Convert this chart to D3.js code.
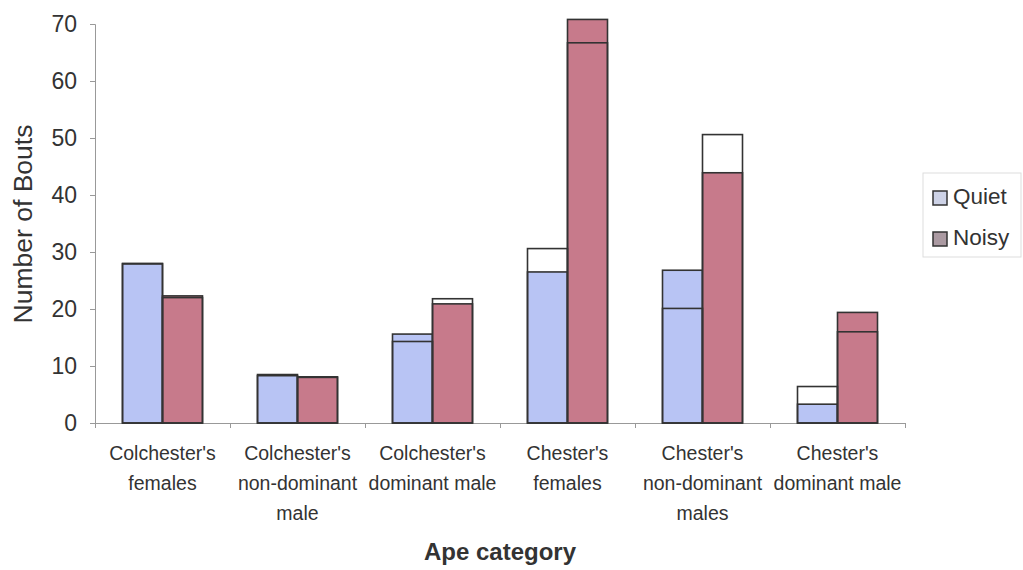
<!DOCTYPE html>
<html><head><meta charset="utf-8">
<script src="https://cdn.jsdelivr.net/npm/d3@7"></script>
<style>body{margin:0;background:#fff}svg{display:block}</style>
</head><body>
<svg id="c" width="1023" height="570"></svg>
<script>
const categories = [
  ["Colchester's","females"],
  ["Colchester's","non-dominant","male"],
  ["Colchester's","dominant male"],
  ["Chester's","females"],
  ["Chester's","non-dominant","males"],
  ["Chester's","dominant male"]
];
const seriesNames = ["Quiet","Noisy"];
const quietFilled  = [28.0, 8.3, 15.6, 26.5, 26.8, 3.3];
const quietOutline = [27.9, 8.5, 14.3, 30.6, 20.1, 6.4];
const noisyFilled  = [22.3, 8.1, 20.9, 70.8, 43.9, 19.4];
const noisyOutline = [22.0, 8.0, 21.8, 66.7, 50.6, 16.0];
const yTicks = [0,10,20,30,40,50,60,70];

const colors = {Quiet:"#b8c4f4", Noisy:"#c77a8b"};
const legendColors = {Quiet:"#cdd2e6", Noisy:"#ab9aa2"};
const svg = d3.select("#c");
const font = "'Liberation Sans', Arial, sans-serif";
const ids = categories.map((c,i)=>i);
const x = d3.scaleBand().domain(ids).range([95,905]).paddingInner(0).paddingOuter(0);
const y = d3.scaleLinear().domain([0,70]).range([423,24]);
const barW = 40;

const data = [];
ids.forEach(i=>{
  data.push({i, s:"Quiet", off:-1, f:quietFilled[i], o:quietOutline[i]});
  data.push({i, s:"Noisy", off:0, f:noisyFilled[i], o:noisyOutline[i]});
});

// axes
const yAxis = svg.append("g").attr("transform","translate(95,0)")
  .call(d3.axisLeft(y).tickValues(yTicks).tickSize(5).tickPadding(13));
yAxis.select(".domain").attr("stroke","#999");
yAxis.selectAll(".tick line").attr("stroke","#999");
yAxis.selectAll("text").attr("font-family",font).attr("font-size",23).attr("fill","#333");

const xb = d3.scaleLinear().domain([0,6]).range([95,905]);
const xAxis = svg.append("g").attr("transform","translate(0,423)")
  .call(d3.axisBottom(xb).tickValues(d3.range(0,7)).tickSize(5).tickFormat(""));
xAxis.select(".domain").attr("stroke","#999");
xAxis.selectAll(".tick line").attr("stroke","#999");

// bars
const g = svg.append("g");
g.selectAll("rect.fill").data(data).join("rect").attr("class","fill")
  .attr("x",d=>x(d.i)+x.bandwidth()/2+d.off*barW).attr("width",barW)
  .attr("y",d=>y(d.f)).attr("height",d=>y(0)-y(d.f))
  .attr("fill",d=>colors[d.s]).attr("stroke","#333").attr("stroke-width",1.6);
g.selectAll("rect.out").data(data).join("rect").attr("class","out")
  .attr("x",d=>x(d.i)+x.bandwidth()/2+d.off*barW).attr("width",barW)
  .attr("y",d=>y(d.o)).attr("height",d=>y(0)-y(d.o))
  .attr("fill","none").attr("stroke","#333").attr("stroke-width",1.6);

// category labels
const lab = svg.append("g");
categories.forEach((lines,i)=>{
  const t = lab.append("text").attr("x",x(i)+x.bandwidth()/2).attr("y",460)
    .attr("text-anchor","middle").attr("font-family",font).attr("font-size",19.5)
    .attr("fill","#333");
  lines.forEach((l,k)=>t.append("tspan").attr("x",x(i)+x.bandwidth()/2).attr("y",460+k*30).text(l));
});

// titles
svg.append("text").attr("x",500).attr("y",560).attr("text-anchor","middle")
  .attr("font-family",font).attr("font-size",24).attr("font-weight","bold").attr("fill","#333").text("Ape category");
svg.append("text").attr("transform","translate(32,224) rotate(-90)").attr("text-anchor","middle")
  .attr("font-family",font).attr("font-size",26.5).attr("fill","#333").text("Number of Bouts");

// legend
const lg = svg.append("g");
lg.append("rect").attr("x",923).attr("y",173).attr("width",98).attr("height",84)
  .attr("fill","#fff").attr("stroke","#ddd");
seriesNames.forEach((s,k)=>{
  lg.append("rect").attr("x",933).attr("y",191+k*41).attr("width",14).attr("height",14)
    .attr("fill",legendColors[s]).attr("stroke","#333").attr("stroke-width",1.5);
  lg.append("text").attr("x",953).attr("y",204+k*41).attr("font-family",font).attr("font-size",22.5)
    .attr("fill","#333").text(s);
});
</script>
</body></html>
